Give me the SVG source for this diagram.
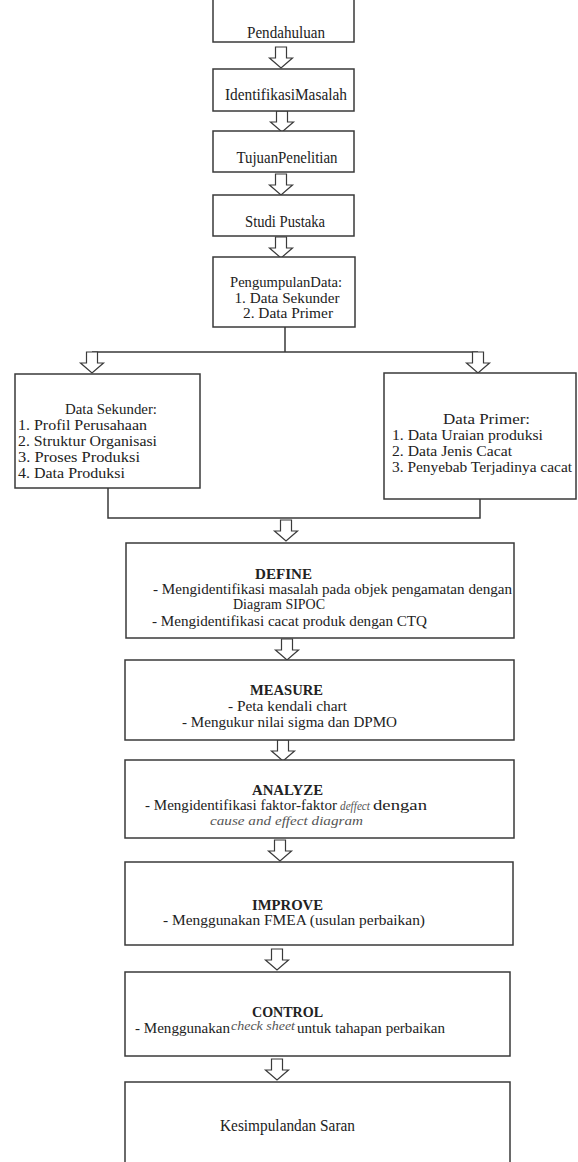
<svg xmlns="http://www.w3.org/2000/svg" width="578" height="1162" viewBox="0 0 578 1162">
<style>
.box{fill:#fff;stroke:#3a3a3a;stroke-width:1.5}
.ln{fill:none;stroke:#3a3a3a;stroke-width:1.5}
.arr{fill:#fff;stroke:#3a3a3a;stroke-width:1.2}
text{font-family:'Liberation Serif','DejaVu Serif',serif;font-size:15px;fill:#222}
.c{text-anchor:middle}
.b{font-weight:bold}
.i{font-style:italic;fill:#555}
</style>
<defs>
<path id="arw" d="M-5.5 0 L5.5 0 L5.5 11 L11.5 11 L0 21 L-11.5 11 L-5.5 11 Z"/>
</defs>
<rect width="578" height="1162" fill="#fff"/>
<g id="connectors">
<use href="#arw" class="arr" transform="translate(281,47)"/>
<use href="#arw" class="arr" transform="translate(282,111)"/>
<use href="#arw" class="arr" transform="translate(281,174)"/>
<use href="#arw" class="arr" transform="translate(281,237)"/>
<path class="ln" d="M285 327 V352 M92 352 H478"/>
<use href="#arw" class="arr" transform="translate(92,352)"/>
<use href="#arw" class="arr" transform="translate(478,352)"/>
<path class="ln" d="M108 488 V518 H480 V499"/>
<use href="#arw" class="arr" transform="translate(286,520)"/>
<use href="#arw" class="arr" transform="translate(287,639)"/>
<use href="#arw" class="arr" transform="translate(283,740)"/>
<use href="#arw" class="arr" transform="translate(280,840)"/>
<use href="#arw" class="arr" transform="translate(277,949)"/>
<use href="#arw" class="arr" transform="translate(277,1059)"/>
</g>
<g id="n-pendahuluan">
<rect class="box" x="213" y="-2" width="141" height="44"/>
<text class="c" x="286" y="38" textLength="78" lengthAdjust="spacingAndGlyphs" style="font-size:16px">Pendahuluan</text>
</g>
<g id="n-identifikasi">
<rect class="box" x="213" y="69" width="141" height="42"/>
<text class="c" x="286" y="100" textLength="122" lengthAdjust="spacingAndGlyphs" style="font-size:16px">IdentifikasiMasalah</text>
</g>
<g id="n-tujuan">
<rect class="box" x="213" y="131" width="141" height="41"/>
<text class="c" x="287" y="163" textLength="101" lengthAdjust="spacingAndGlyphs" style="font-size:16px">TujuanPenelitian</text>
</g>
<g id="n-studi">
<rect class="box" x="213" y="195" width="141" height="41"/>
<text class="c" x="285" y="227" textLength="80" lengthAdjust="spacingAndGlyphs" style="font-size:16px">Studi Pustaka</text>
</g>
<g id="n-pengumpulan">
<rect class="box" x="213" y="257" width="142" height="70"/>
<text class="c" x="286" y="287" textLength="112" lengthAdjust="spacingAndGlyphs">PengumpulanData:</text>
<text class="c" x="287" y="303" textLength="105" lengthAdjust="spacingAndGlyphs">1. Data Sekunder</text>
<text class="c" x="288" y="318" textLength="90" lengthAdjust="spacingAndGlyphs">2. Data Primer</text>
</g>
<g id="n-sekunder">
<rect class="box" x="15" y="374" width="185" height="114"/>
<text x="65" y="414" textLength="92" lengthAdjust="spacingAndGlyphs">Data Sekunder:</text>
<text x="18" y="430" textLength="129" lengthAdjust="spacingAndGlyphs">1. Profil Perusahaan</text>
<text x="18" y="446" textLength="139" lengthAdjust="spacingAndGlyphs">2. Struktur Organisasi</text>
<text x="18" y="462" textLength="122" lengthAdjust="spacingAndGlyphs">3. Proses Produksi</text>
<text x="18" y="478" textLength="107" lengthAdjust="spacingAndGlyphs">4. Data Produksi</text>
</g>
<g id="n-primer">
<rect class="box" x="384" y="373" width="192" height="126"/>
<text x="443" y="424" textLength="87" lengthAdjust="spacingAndGlyphs">Data Primer:</text>
<text x="392" y="440" textLength="151" lengthAdjust="spacingAndGlyphs">1. Data Uraian produksi</text>
<text x="392" y="456" textLength="120" lengthAdjust="spacingAndGlyphs">2. Data Jenis Cacat</text>
<text x="392" y="472" textLength="180" lengthAdjust="spacingAndGlyphs">3. Penyebab Terjadinya cacat</text>
</g>
<g id="n-define">
<rect class="box" x="126" y="543" width="388" height="95"/>
<text class="b" x="255" y="579" textLength="57" lengthAdjust="spacingAndGlyphs">DEFINE</text>
<text x="153" y="594" textLength="359" lengthAdjust="spacingAndGlyphs">- Mengidentifikasi masalah pada objek pengamatan dengan</text>
<text x="233" y="609" textLength="92" lengthAdjust="spacingAndGlyphs">Diagram SIPOC</text>
<text x="152" y="626" textLength="275" lengthAdjust="spacingAndGlyphs">- Mengidentifikasi cacat produk dengan CTQ</text>
</g>
<g id="n-measure">
<rect class="box" x="125" y="660" width="389" height="80"/>
<text class="b" x="250" y="695" textLength="73" lengthAdjust="spacingAndGlyphs">MEASURE</text>
<text x="228" y="711" textLength="119" lengthAdjust="spacingAndGlyphs">- Peta kendali chart</text>
<text x="182" y="727" textLength="215" lengthAdjust="spacingAndGlyphs">- Mengukur nilai sigma dan DPMO</text>
</g>
<g id="n-analyze">
<rect class="box" x="125" y="760" width="389" height="78"/>
<text class="b" x="252" y="795" textLength="71" lengthAdjust="spacingAndGlyphs">ANALYZE</text>
<text x="145" y="810" textLength="192" lengthAdjust="spacingAndGlyphs">- Mengidentifikasi faktor-faktor</text>
<text class="i" x="340" y="810" textLength="30" lengthAdjust="spacingAndGlyphs" style="font-size:12px">deffect</text>
<text x="373" y="810" textLength="54" lengthAdjust="spacingAndGlyphs">dengan</text>
<text class="i" x="210" y="825" textLength="153" lengthAdjust="spacingAndGlyphs" style="font-size:13px">cause and effect diagram</text>
</g>
<g id="n-improve">
<rect class="box" x="125" y="862" width="388" height="83"/>
<text class="b" x="252" y="910" textLength="71" lengthAdjust="spacingAndGlyphs">IMPROVE</text>
<text x="163" y="925" textLength="262" lengthAdjust="spacingAndGlyphs">- Menggunakan FMEA  (usulan perbaikan)</text>
</g>
<g id="n-control">
<rect class="box" x="125" y="972" width="385" height="84"/>
<text class="b" x="252" y="1017" textLength="71" lengthAdjust="spacingAndGlyphs">CONTROL</text>
<text x="135" y="1033" textLength="95" lengthAdjust="spacingAndGlyphs">- Menggunakan</text>
<text class="i" x="231" y="1030" textLength="64" lengthAdjust="spacingAndGlyphs" style="font-size:13px">check sheet</text>
<text x="297" y="1033" textLength="148" lengthAdjust="spacingAndGlyphs">untuk tahapan perbaikan</text>
</g>
<g id="n-kesimpulan">
<rect class="box" x="125" y="1082" width="385" height="90"/>
<text x="220" y="1131" textLength="135" lengthAdjust="spacingAndGlyphs" style="font-size:16px">Kesimpulandan Saran</text>
</g>
</svg>
